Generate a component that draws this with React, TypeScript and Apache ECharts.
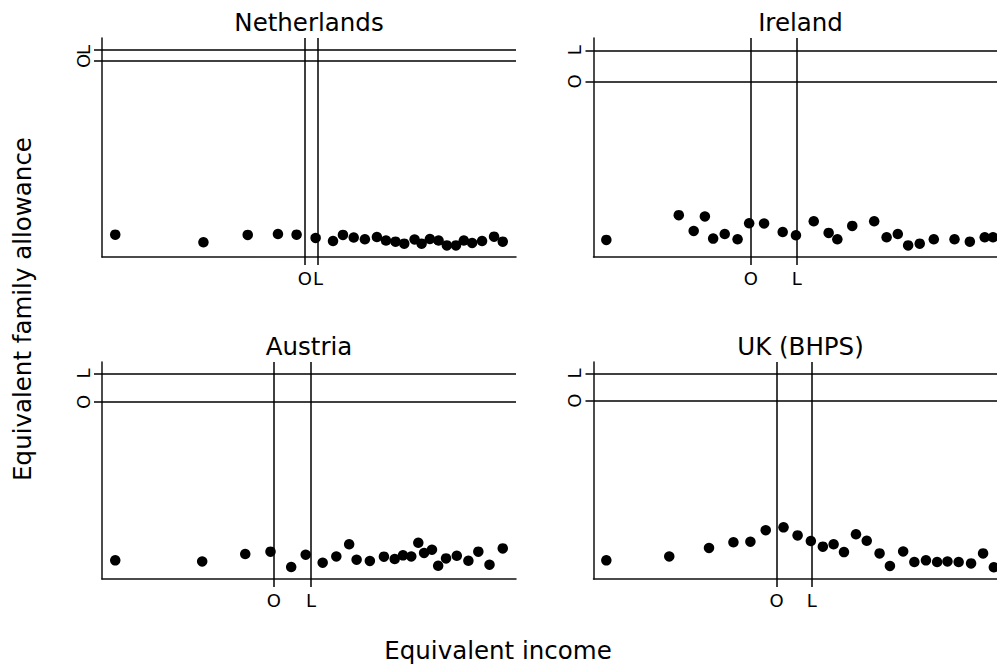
import React, { useEffect, useRef } from "react";
import * as echarts from "echarts";

// Panel titles
const panelTitles = ["Netherlands", "Ireland", "Austria", "UK (BHPS)"];
const lineLabels = ["O", "L"];

// Netherlands
const nlIncome = [3.2, 24.5, 35.2, 42.5, 47.0, 51.6, 55.8, 58.2, 60.8, 63.5, 66.4, 68.6, 70.9, 73.0, 75.5, 77.2, 79.2, 81.3, 83.3, 85.5, 87.4, 89.4, 91.8, 94.7, 96.8];
const nlAllowance = [10.2, 6.7, 10.1, 10.5, 10.2, 8.7, 7.3, 10.1, 8.9, 8.1, 9.1, 7.5, 7.0, 6.1, 8.0, 6.1, 8.2, 7.5, 5.3, 5.3, 7.5, 6.4, 7.3, 9.3, 7.0];
const nlLinesX = [49.0, 52.2];
const nlLinesY = [89.5, 94.5];

// Ireland
const ieIncome = [3.1, 20.6, 24.2, 26.9, 28.9, 31.7, 34.8, 37.6, 41.2, 45.7, 48.9, 53.2, 56.8, 58.9, 62.5, 67.8, 70.8, 73.5, 76.0, 78.8, 82.2, 87.2, 90.9, 94.5, 96.5];
const ieAllowance = [7.8, 19.1, 11.9, 18.5, 8.4, 10.5, 8.1, 15.4, 15.3, 11.4, 9.9, 16.3, 11.0, 8.1, 14.2, 16.3, 9.0, 10.5, 5.3, 6.1, 8.1, 8.1, 7.0, 9.0, 9.0];
const ieLinesX = [38.0, 49.1];
const ieLinesY = [80.2, 94.4];

// Austria
const atIncome = [3.2, 24.2, 34.6, 40.7, 45.7, 49.2, 53.3, 56.6, 59.7, 61.5, 64.7, 68.1, 70.7, 72.7, 74.7, 76.4, 77.8, 79.7, 81.2, 83.1, 85.7, 88.5, 90.9, 93.6, 96.8];
const atAllowance = [8.6, 8.1, 11.5, 12.6, 5.5, 11.2, 7.5, 10.4, 16.0, 8.9, 8.3, 10.3, 9.2, 10.9, 10.4, 16.7, 12.0, 13.5, 6.1, 9.5, 10.7, 8.4, 12.6, 6.6, 14.1];
const atLinesX = [41.5, 50.5];
const atLinesY = [81.6, 94.7];

// UK (BHPS)
const ukIncome = [3.1, 18.3, 27.9, 33.8, 37.9, 41.6, 45.9, 49.3, 52.5, 55.4, 58.0, 60.5, 63.4, 66.0, 69.1, 71.6, 74.8, 77.5, 80.3, 83.0, 85.5, 88.2, 91.2, 94.1, 96.7];
const ukAllowance = [8.6, 10.4, 14.3, 16.9, 17.2, 22.5, 23.8, 20.1, 17.5, 14.9, 16.0, 12.4, 20.6, 17.6, 11.8, 6.0, 12.7, 7.8, 8.6, 7.8, 8.1, 7.8, 7.2, 11.8, 5.4];
const ukLinesX = [44.2, 52.7];
const ukLinesY = [82.2, 94.7];

const yTitle = "Equivalent family allowance";
const xTitle = "Equivalent income";

const FONT = "DejaVu Sans";

export default function App() {
  const ref = useRef<HTMLDivElement>(null);

  useEffect(() => {
    if (!ref.current) return;
    const chart = echarts.init(ref.current, undefined, { renderer: "svg" });

    const panels = [
      { x: nlIncome, y: nlAllowance, lx: nlLinesX, ly: nlLinesY },
      { x: ieIncome, y: ieAllowance, lx: ieLinesX, ly: ieLinesY },
      { x: atIncome, y: atAllowance, lx: atLinesX, ly: atLinesY },
      { x: ukIncome, y: ukAllowance, lx: ukLinesX, ly: ukLinesY },
    ];

    const gridPos = [
      { left: 102, top: 38, width: 414, height: 219 },
      { left: 593.5, top: 38, width: 414, height: 219 },
      { left: 102, top: 362, width: 414, height: 217 },
      { left: 593.5, top: 362, width: 414, height: 217 },
    ];

    const axisLineStyle = { color: "#111", width: 1.5 };
    const nameOf = (vals: number[]) => (v: number) => {
      const i = vals.findIndex((t) => Math.abs(t - v) < 1e-6);
      return i >= 0 ? lineLabels[i] : "";
    };

    // one y axis per (panel, line) so that close labels are never hidden
    const yAxes: any[] = [];
    panels.forEach((p, i) => {
      p.ly.forEach((v, j) => {
        yAxes.push({
          type: "value",
          gridIndex: i,
          position: "left",
          offset: 0,
          min: 0,
          max: 100,
          axisLine: { show: j === 0, onZero: false, lineStyle: axisLineStyle },
          axisTick: {
            show: true,
            customValues: [v],
            length: 8,
            inside: false,
            lineStyle: { color: "#000", width: 1.5 },
          },
          axisLabel: {
            show: true,
            customValues: [v],
            formatter: () => lineLabels[j],
            fontFamily: FONT,
            fontSize: 18,
            color: "#000",
            rotate: 90,
            margin: 10,
            hideOverlap: false,
            showMinLabel: true,
            showMaxLabel: true,
          },
          splitLine: { show: false },
        });
      });
    });

    const option: any = {
      animation: false,
      backgroundColor: "#fff",
      grid: gridPos.map((g) => ({ ...g, containLabel: false })),
      xAxis: panels.map((p, i) => ({
        type: "value",
        gridIndex: i,
        min: 0,
        max: 100,
        axisLine: { show: true, onZero: false, lineStyle: axisLineStyle },
        axisTick: {
          show: true,
          customValues: p.lx,
          length: 8,
          inside: false,
          lineStyle: { color: "#000", width: 1.5 },
        },
        axisLabel: {
          show: true,
          customValues: p.lx,
          formatter: nameOf(p.lx),
          fontFamily: FONT,
          fontSize: 18,
          color: "#000",
          margin: 12,
          hideOverlap: false,
          showMinLabel: true,
          showMaxLabel: true,
        },
        splitLine: { show: false },
      })),
      yAxis: yAxes,
      series: panels.map((p, i) => ({
        type: "scatter",
        xAxisIndex: i,
        yAxisIndex: i * 2,
        symbol: "circle",
        symbolSize: 10.5,
        itemStyle: { color: "#000", opacity: 1 },
        data: p.x.map((v, k) => [v, p.y[k]]),
        markLine: {
          silent: true,
          symbol: "none",
          label: { show: false },
          lineStyle: { color: "#000", width: 1.5, type: "solid", opacity: 1 },
          data: [
            ...p.lx.map((v) => ({ xAxis: v })),
            ...p.ly.map((v) => ({ yAxis: v })),
          ],
        },
      })),
      graphic: [
        ...panelTitles.map((t, i) => ({
          type: "text",
          x: gridPos[i].left + 207,
          y: gridPos[i].top - 16,
          style: {
            text: t,
            fontFamily: FONT,
            fontSize: 24.5,
            fill: "#000",
            textAlign: "center",
            textVerticalAlign: "middle",
          },
        })),
        {
          type: "text",
          x: 22,
          y: 309,
          rotation: Math.PI / 2,
          style: {
            text: yTitle,
            fontFamily: FONT,
            fontSize: 24.5,
            fill: "#000",
            textAlign: "center",
            textVerticalAlign: "middle",
          },
        },
        {
          type: "text",
          x: 498,
          y: 650,
          style: {
            text: xTitle,
            fontFamily: FONT,
            fontSize: 24.5,
            fill: "#000",
            textAlign: "center",
            textVerticalAlign: "middle",
          },
        },
      ],
    };

    chart.setOption(option);
    return () => chart.dispose();
  }, []);

  return (
    <div
      style={{
        position: "absolute",
        left: 0,
        top: 0,
        width: 997,
        height: 664,
        overflow: "hidden",
        background: "#fff",
      }}
    >
      <div ref={ref} style={{ width: 1020, height: 664 }} />
    </div>
  );
}
